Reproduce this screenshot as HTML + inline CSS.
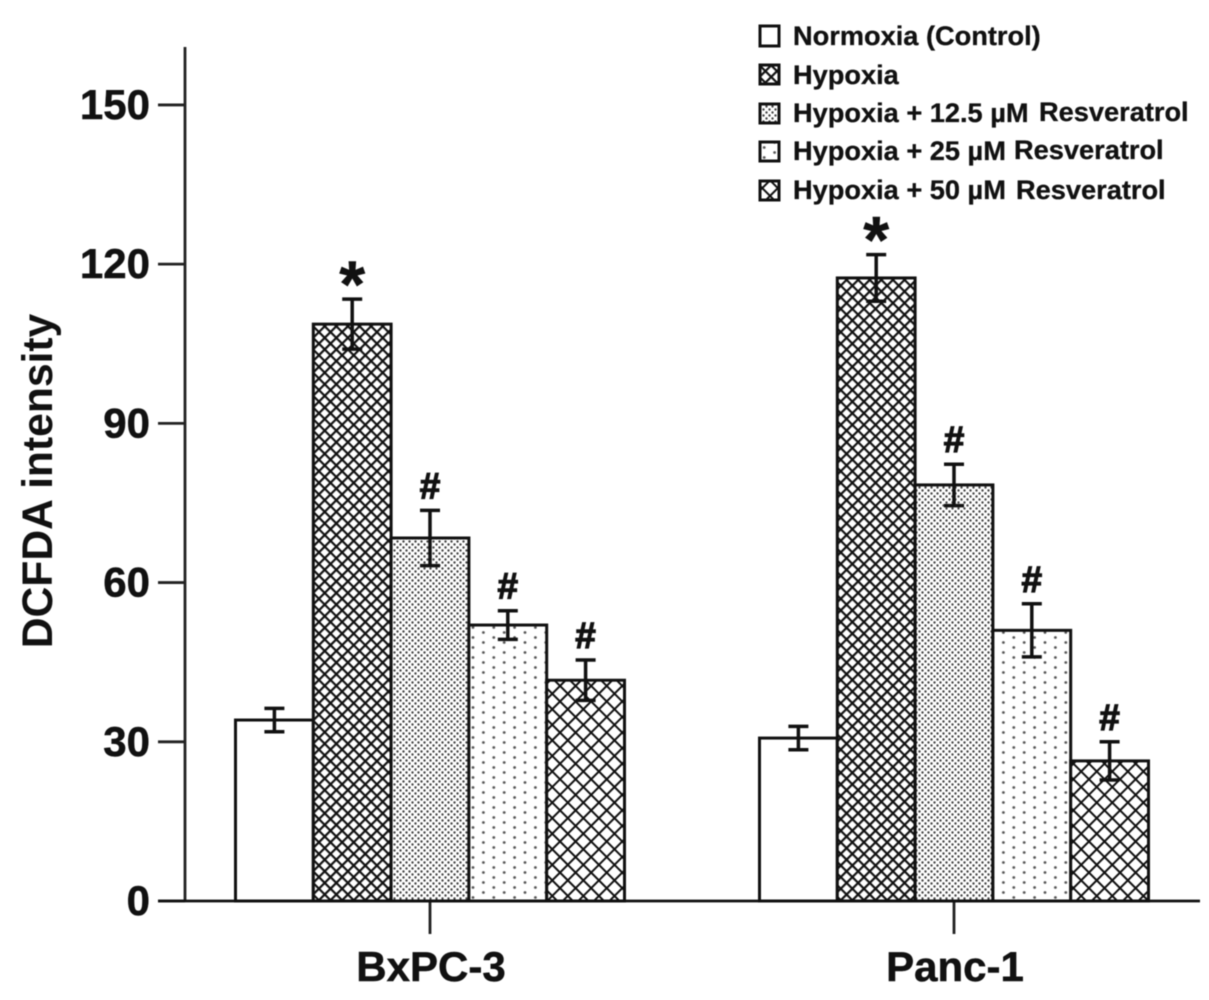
<!DOCTYPE html>
<html>
<head>
<meta charset="utf-8">
<title>DCFDA intensity chart</title>
<style>
html,body{margin:0;padding:0;background:#fff;}
svg{display:block;filter:blur(0.5px);}
text{font-family:"Liberation Sans",sans-serif;font-weight:bold;fill:#111;}
.legend-text{font-size:27.2px;stroke:#111;stroke-width:0.3px;}
</style>
</head>
<body>
<svg id="chart" xmlns="http://www.w3.org/2000/svg" width="1209" height="1000" viewBox="0 0 1209 1000">
  <defs>
    <pattern id="p-hypoxia" patternUnits="userSpaceOnUse" width="8.2" height="8.2" patternTransform="rotate(45 0 0)">
      <rect width="8.2" height="8.2" fill="#fff"/>
      <path d="M0 0H8.2M0 0V8.2" stroke="#111" stroke-width="4.4" fill="none"/>
    </pattern>
    <pattern id="p-res125" patternUnits="userSpaceOnUse" width="6" height="6">
      <rect width="6" height="6" fill="#fff"/>
      <circle cx="1.5" cy="1.5" r="1.2" fill="#444"/>
      <circle cx="4.5" cy="4.5" r="1.2" fill="#444"/>
    </pattern>
    <pattern id="p-res25" patternUnits="userSpaceOnUse" width="20.8" height="10">
      <rect width="20.8" height="10" fill="#fff"/>
      <circle cx="5" cy="2.5" r="1.4" fill="#555"/>
      <circle cx="15.4" cy="7.5" r="1.4" fill="#555"/>
    </pattern>
    <pattern id="p-res50" patternUnits="userSpaceOnUse" width="11" height="11" patternTransform="rotate(45 0 0)">
      <rect width="11" height="11" fill="#fff"/>
      <path d="M0 0H11M0 0V11" stroke="#111" stroke-width="4" fill="none"/>
    </pattern>
  </defs>

  <g id="plot"></g>

  <line x1="185" y1="47" x2="185" y2="902" stroke="#222" stroke-width="2.8"/>
  <line x1="158" y1="901" x2="1200" y2="901" stroke="#111" stroke-width="2.8"/>
  <text transform="translate(52 481) rotate(-90)" text-anchor="middle" font-size="42.6">DCFDA intensity</text>

  <g>
    <rect x="760" y="26" width="19" height="20" fill="#fff" stroke="#111" stroke-width="3"/>
    <text class="legend-text" x="793" y="45">Normoxia (Control)</text>
    <rect x="760" y="65" width="19" height="19" fill="url(#p-hypoxia)" stroke="#111" stroke-width="3"/>
    <text class="legend-text" x="793" y="84">Hypoxia</text>
    <rect x="760" y="104" width="19" height="19" fill="url(#p-res125)" stroke="#111" stroke-width="3"/>
    <text class="legend-text" x="793" y="122">Hypoxia + 12.5 µM</text>
    <text class="legend-text" x="1039" y="121">Resveratrol</text>
    <rect x="760" y="142" width="19" height="19" fill="url(#p-res25)" stroke="#111" stroke-width="3"/>
    <text class="legend-text" x="793" y="160">Hypoxia + 25 µM</text>
    <text class="legend-text" x="1014" y="159">Resveratrol</text>
    <rect x="760" y="181" width="19" height="19" fill="url(#p-res50)" stroke="#111" stroke-width="3"/>
    <text class="legend-text" x="793" y="199">Hypoxia + 50 µM</text>
    <text class="legend-text" x="1016" y="199">Resveratrol</text>
  </g>
</svg>

<script>
const categories = ['BxPC-3', 'Panc-1'];
const yTicks = [0, 30, 60, 90, 120, 150];
const seriesKeys = ['normoxia', 'hypoxia', 'res-12-5', 'res-25', 'res-50'];
const seriesFills = ['#fff', 'url(#p-hypoxia)', 'url(#p-res125)', 'url(#p-res25)', 'url(#p-res50)'];

const normoxia = [34.1, 30.7];
const hypoxia = [108.7, 117.4];
const res125 = [68.4, 78.4];
const res25 = [52.0, 51.0];
const res50 = [41.6, 26.4];

const normoxiaErr = [2.2, 2.2];
const hypoxiaErr = [4.7, 4.4];
const res125Err = [5.2, 3.9];
const res25Err = [2.7, 5.0];
const res50Err = [3.8, 3.6];

const normoxiaMarks = ['', ''];
const hypoxiaMarks = ['*', '*'];
const res125Marks = ['#', '#'];
const res25Marks = ['#', '#'];
const res50Marks = ['#', '#'];

const seriesValues = [normoxia, hypoxia, res125, res25, res50];
const seriesErrors = [normoxiaErr, hypoxiaErr, res125Err, res25Err, res50Err];
const seriesMarks = [normoxiaMarks, hypoxiaMarks, res125Marks, res25Marks, res50Marks];

const NS = 'http://www.w3.org/2000/svg';
const plot = document.getElementById('plot');

function yScale(v) { return 901 - v * 5.307; }
function groupCenter(i) { return 430 + i * 524; }
const BAR_W = 77.8;
function barLeft(i, s) { return groupCenter(i) + (s - seriesValues.length / 2) * BAR_W; }

function mk(tag, attrs, text) {
  const e = document.createElementNS(NS, tag);
  for (const k in attrs) e.setAttribute(k, attrs[k]);
  if (text !== undefined) e.textContent = text;
  plot.appendChild(e);
  return e;
}

yTicks.forEach(function (t) {
  const y = yScale(t);
  const tick = mk('line', { x1: 158, x2: 185, y1: y, y2: y, stroke: '#222', 'stroke-width': 2.8 });
  
  
  const lab = mk('text', { x: 150, y: y + 14, 'text-anchor': 'end', 'font-size': 42, stroke: '#111', 'stroke-width': 0.5 }, String(t));
  
  
});

categories.forEach(function (c, i) {
  const x = groupCenter(i);
  const tick = mk('line', { x1: x, x2: x, y1: 901, y2: 934, stroke: '#222', 'stroke-width': 2.8 });
  
  
  const lab = mk('text', { x: x + 1, y: 981, 'text-anchor': 'middle', 'font-size': 42, stroke: '#111', 'stroke-width': 0.5 }, c);
  
  

  seriesValues.forEach(function (vals, s) {
    const left = barLeft(i, s);
    const top = yScale(vals[i]);
    const bar = mk('rect', { x: left, y: top, width: BAR_W, height: yScale(0) - top, fill: seriesFills[s], stroke: '#111', 'stroke-width': 3 });
    
    
  });

  seriesValues.forEach(function (vals, s) {
    const cx = barLeft(i, s) + BAR_W / 2;
    const hi = yScale(vals[i] + seriesErrors[s][i]);
    const lo = yScale(vals[i] - seriesErrors[s][i]);
    const err = mk('path', {
      d: 'M' + (cx - 10) + ' ' + hi + 'H' + (cx + 10) + 'M' + cx + ' ' + hi + 'V' + lo + 'M' + (cx - 10) + ' ' + lo + 'H' + (cx + 10),
      fill: 'none', stroke: '#111', 'stroke-width': 3.5
    });
    
    

    const m = seriesMarks[s][i];
    if (m === '*') {
      const star = mk('text', { x: cx, y: hi + 8, 'text-anchor': 'middle', 'font-size': 66, stroke: '#111', 'stroke-width': 0.6 }, m);
      
      
    } else if (m === '#') {
      const hash = mk('text', { x: cx, y: hi - 12, 'text-anchor': 'middle', 'font-size': 37, stroke: '#111', 'stroke-width': 1.2 }, m);
      
      
    }
  });
});
</script>
</body>
</html>
